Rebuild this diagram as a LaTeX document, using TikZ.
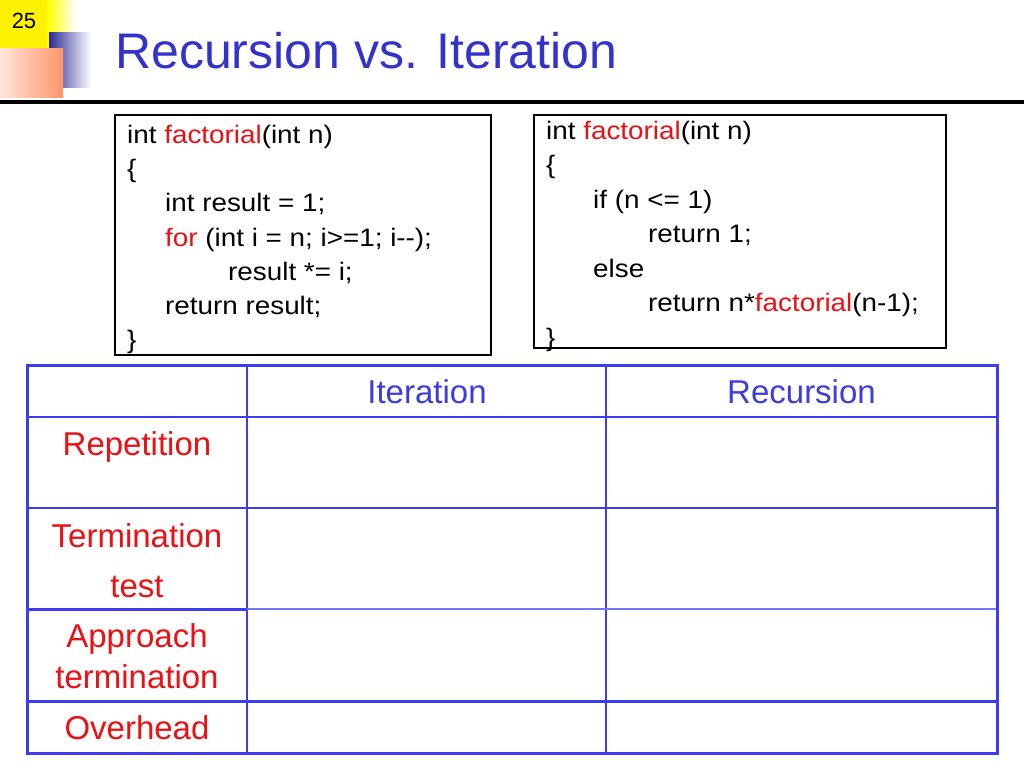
\documentclass[tikz,border=0pt]{standalone}
\usepackage{fontspec}
\setmainfont{Liberation Sans}
\newfontfamily\codefont[FakeStretch=1.1]{Liberation Sans}
\definecolor{titleblue}{RGB}{51,51,204}
\definecolor{tableblue}{RGB}{60,60,240}
\definecolor{headblue}{RGB}{60,60,225}
\definecolor{labelred}{RGB}{235,16,20}
\definecolor{salmonA}{RGB}{255,228,220}
\definecolor{salmonB}{RGB}{255,150,105}
\definecolor{navy}{RGB}{45,45,150}
\newcommand{\hl}[1]{\textcolor{labelred}{#1}}
\tikzset{
  codeline/.style={anchor=base west, inner sep=0pt, font=\codefont\fontsize{25.3}{28}\selectfont},
  rowlabel/.style={anchor=base, inner sep=0pt, text=labelred, font=\fontsize{33}{38}\selectfont},
  colhead/.style={anchor=base, inner sep=0pt, text=headblue, font=\fontsize{33}{38}\selectfont},
  codebox/.style={draw=black, line width=2pt},
  thickrule/.style={draw=tableblue, line width=3pt},
  thinrule/.style={draw=tableblue, line width=1.5pt},
}
\begin{document}
\begin{tikzpicture}[x=1pt,y=-1pt]
\useasboundingbox (0,0) rectangle (1024,768);
\fill[white] (0,0) rectangle (1024,768);
% corner decoration
\fill[yellow] (0,0) rectangle (48,48);
\shade[left color=yellow, right color=white] (47.5,0) rectangle (76,48);
\shade[left color=navy, right color=white] (49,33) rectangle (91,87);
\shade[left color=salmonA, right color=salmonB] (0,49) rectangle (63,97);
\node[inner sep=0pt, anchor=base, font=\fontsize{22}{26}\selectfont] (pagenum) at (24,29) {25};
% title
\node[anchor=base west, inner sep=0pt, text=titleblue, font=\fontsize{50}{60}\selectfont] (title) at (115,68) {Recursion vs. Iteration};
\draw[line width=3.5pt, black] (0,102) -- (1024,102);
% code box 1
\draw[codebox] (115,115) rectangle (491,355);
\node[codeline] (a1) at (127,143) {int \hl{factorial}(int n)};
\node[codeline] (a2) at (127,177) {\{};
\node[codeline] (a3) at (165,211) {int result = 1;};
\node[codeline] (a4) at (165,246) {\hl{for} (int i = n; i>=1; i-{}-);};
\node[codeline] (a5) at (228,280) {result *= i;};
\node[codeline] (a6) at (165,314) {return result;};
\node[codeline] (a7) at (127,348) {\}};
% code box 2
\draw[codebox] (534,115) rectangle (946,348);
\node[codeline] (b1) at (546,139) {int \hl{factorial}(int n)};
\node[codeline] (b2) at (546,173.5) {\{};
\node[codeline] (b3) at (593,208) {if (n <= 1)};
\node[codeline] (b4) at (648,242.5) {return 1;};
\node[codeline] (b5) at (593,277) {else};
\node[codeline] (b6) at (648,311.5) {return n*\hl{factorial}(n-1);};
\node[codeline] (b7) at (546,346) {\}};
% table
\draw[thinrule] (247,365) -- (247,753);
\draw[thinrule] (606,365) -- (606,753);
\draw[thinrule] (27,417) -- (997,417);
\draw[thinrule] (27,508) -- (997,508);
\draw[thinrule, draw=tableblue!70] (247,609) -- (997,609);
\draw[thickrule] (27,609) -- (247,609);
\draw[thickrule] (27,701) -- (997,701);
\draw[thickrule] (27,365) rectangle (997,753);
\node[colhead] (hit) at (427,403) {Iteration};
\node[colhead] (hrec) at (801.5,403) {Recursion};
\node[rowlabel] (rrep) at (137,455) {Repetition};
\node[rowlabel] (rterm) at (137,547) {Termination};
\node[rowlabel] (rtest) at (137,597) {test};
\node[rowlabel] (rapp) at (137,647) {Approach};
\node[rowlabel] (rappt) at (137,688) {termination};
\node[rowlabel] (rover) at (137,739) {Overhead};
\end{tikzpicture}
\end{document}
